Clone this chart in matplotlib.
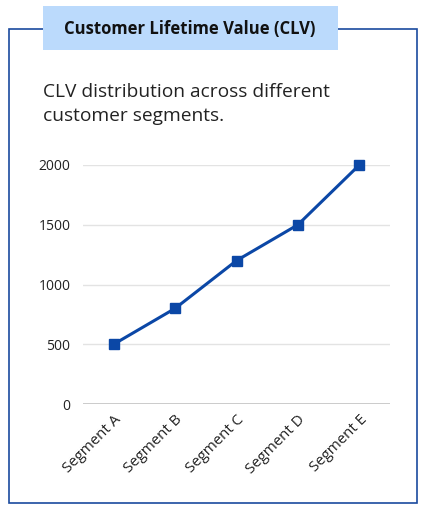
import matplotlib.pyplot as plt
from matplotlib.patches import Rectangle

segments = ['Segment A', 'Segment B', 'Segment C', 'Segment D', 'Segment E']
clv = [500, 800, 1200, 1500, 2000]
yticks = [0, 500, 1000, 1500, 2000]

plt.rcParams['font.family'] = ['Open Sans', 'DejaVu Sans']

W, H = 423, 512
fig = plt.figure(figsize=(W / 100, H / 100), dpi=100)

# outer frame and title box (pixel coords -> figure fraction)
def px(x, y):
    return x / W, 1 - y / H

x0, y0 = px(9, 503)
fig.patches.append(Rectangle((x0, y0), (417 - 9) / W, (503 - 29) / H,
                             transform=fig.transFigure, fill=False,
                             edgecolor='#1a4a9e', linewidth=1.2))
tx, ty = px(43, 50)
fig.patches.append(Rectangle((tx, ty), (338 - 43) / W, (50 - 6) / H,
                             transform=fig.transFigure, facecolor='#bbdafc',
                             edgecolor='none', zorder=3))
fig.text(*px(190, 29), 'Customer Lifetime Value (CLV)', ha='center', va='center',
         fontsize=12, fontweight='bold', color='#111111', zorder=4)
fig.text(*px(43, 104), 'CLV distribution across different\ncustomer segments.',
         ha='left', va='center', fontsize=13.8, color='#222222', linespacing=1.45)

ax = fig.add_axes([83 / W, 1 - 404 / H, (390 - 83) / W, (404 - 165) / H])
x = range(len(segments))
ax.plot(x, clv, color='#0b47a6', linewidth=2.2, marker='s', markersize=6.5,
        clip_on=False, zorder=3)
ax.set_xlim(-0.5, len(segments) - 0.5)
ax.set_ylim(0, 2000)
ax.set_yticks(yticks)
ax.set_xticks(list(x))
ax.set_xticklabels(segments, rotation=45, ha='right', rotation_mode='anchor')
for s in ax.spines.values():
    s.set_visible(False)
ax.grid(axis='y', color='#e3e3e3', linewidth=1)
ax.axhline(0, color='#c4c4c4', linewidth=1.2, zorder=2)
ax.tick_params(axis='both', length=0, labelsize=10, colors='#222222')
ax.tick_params(axis='x', labelsize=10.8, pad=6)
ax.tick_params(axis='y', pad=9)

fig.savefig('out.png', dpi=100)
